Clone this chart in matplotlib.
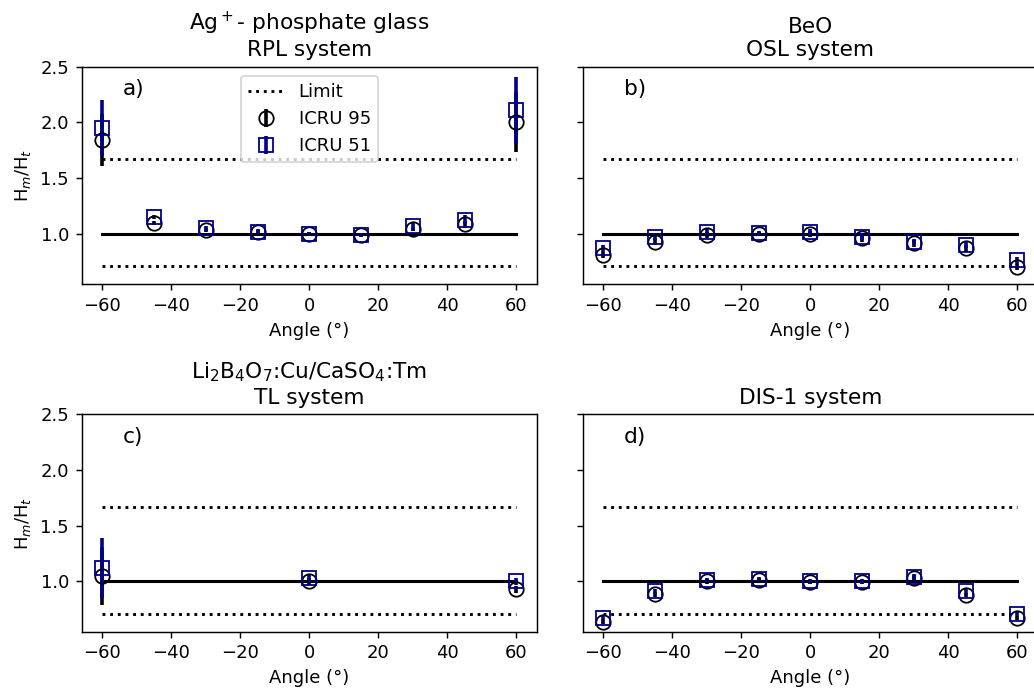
import numpy as np
import matplotlib
matplotlib.use("Agg")
import matplotlib.pyplot as plt

angles = [-60, -45, -30, -15, 0, 15, 30, 45, 60]
angles_tl = [-60, 0, 60]

# ICRU 95 / ICRU 51 responses and uncertainties
rpl_95 = [1.845, 1.096, 1.036, 1.015, 1.00, 0.99, 1.045, 1.087, 2.006]
rpl_95_err = [0.235, 0.02, 0.02, 0.02, 0.02, 0.02, 0.02, 0.03, 0.27]
rpl_51 = [1.95, 1.15, 1.05, 1.02, 1.00, 0.99, 1.066, 1.125, 2.11]
rpl_51_err = [0.25, 0.02, 0.02, 0.02, 0.02, 0.02, 0.03, 0.04, 0.30]

osl_95 = [0.81, 0.93, 0.99, 1.00, 1.00, 0.96, 0.916, 0.87, 0.706]
osl_95_err = [0.03, 0.03, 0.03, 0.02, 0.03, 0.03, 0.03, 0.03, 0.03]
osl_51 = [0.87, 0.976, 1.02, 1.005, 1.015, 0.976, 0.93, 0.90, 0.766]
osl_51_err = [0.03, 0.03, 0.03, 0.02, 0.03, 0.03, 0.02, 0.03, 0.03]

tl_95 = [1.048, 1.00, 0.93]
tl_95_err = [0.26, 0.03, 0.03]
tl_51 = [1.12, 1.027, 1.00]
tl_51_err = [0.27, 0.03, 0.03]

dis_95 = [0.636, 0.883, 1.00, 1.01, 0.995, 0.995, 1.027, 0.88, 0.67]
dis_95_err = [0.02, 0.02, 0.02, 0.02, 0.02, 0.02, 0.03, 0.02, 0.02]
dis_51 = [0.67, 0.91, 1.015, 1.02, 1.00, 1.00, 1.04, 0.91, 0.71]
dis_51_err = [0.02, 0.02, 0.02, 0.02, 0.02, 0.02, 0.03, 0.02, 0.02]

lim_low, lim_high = 0.71, 1.67

titles = ["Ag$^+$- phosphate glass\nRPL system", "BeO\nOSL system",
          "Li$_2$B$_4$O$_7$:Cu/CaSO$_4$:Tm\nTL system", "DIS-1 system"]
letters = ["a)", "b)", "c)", "d)"]
panels = [(angles, rpl_95, rpl_95_err, rpl_51, rpl_51_err),
          (angles, osl_95, osl_95_err, osl_51, osl_51_err),
          (angles_tl, tl_95, tl_95_err, tl_51, tl_51_err),
          (angles, dis_95, dis_95_err, dis_51, dis_51_err)]

fig, axs = plt.subplots(2, 2, figsize=(1034/130, 688/130), dpi=130, sharey=True)
fig.subplots_adjust(left=0.079, right=1.004, top=0.903, bottom=0.082, wspace=0.1, hspace=0.6)

for i, ax in enumerate(axs.flat):
    x, y95, e95, y51, e51 = panels[i]
    ax.plot([-60, 60], [lim_high, lim_high], ':', color='k', lw=1.6, label='Limit')
    ax.plot([-60, 60], [lim_low, lim_low], ':', color='k', lw=1.6)
    ax.plot([-60, 60], [1, 1], '-', color='k', lw=1.7)
    ax.errorbar(x, y95, yerr=e95, fmt='o', mfc='none', mec='k', ecolor='k',
                ms=8, elinewidth=2, label='ICRU 95')
    ax.errorbar(x, y51, yerr=e51, fmt='s', mfc='none', mec='darkblue', ecolor='darkblue',
                ms=8, elinewidth=2, label='ICRU 51')
    ax.set_title(titles[i])
    ax.set_xlabel("Angle (°)")
    ax.text(-54, 2.3, letters[i], fontsize=12, va='center')
    ax.set_xticks([-60, -40, -20, 0, 20, 40, 60])
    if i % 2 == 0:
        ax.set_ylabel("H$_m$/H$_t$")

axs[0, 0].set_ylim(0.55, 2.5)
axs[0, 0].set_yticks([1.0, 1.5, 2.0, 2.5])
axs[0, 0].legend(loc='upper center')

plt.savefig("out.png", dpi=130)
